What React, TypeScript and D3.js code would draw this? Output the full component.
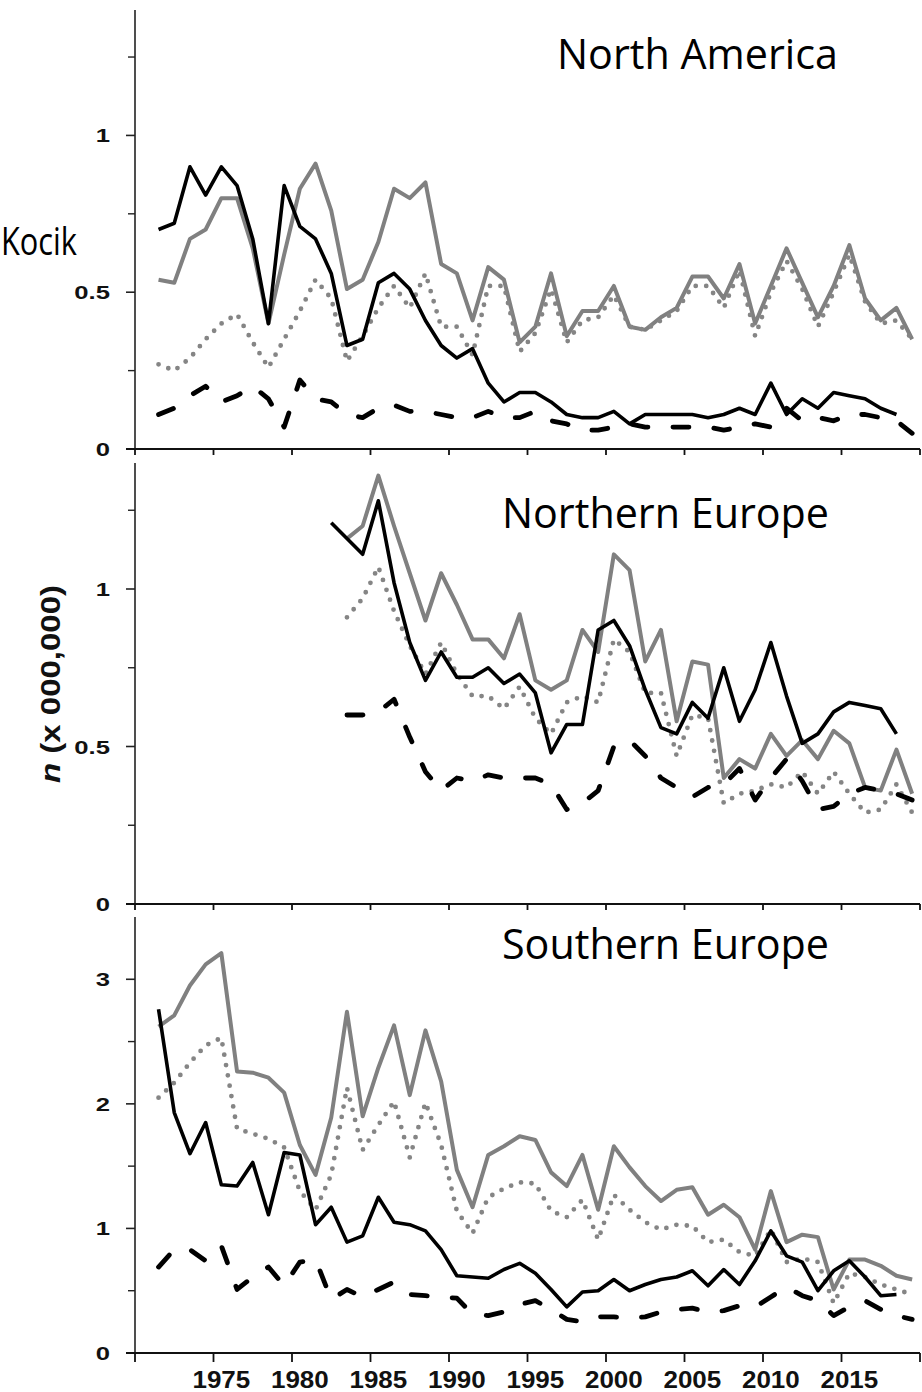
import React from 'react';
import * as d3 from 'd3';

// ---------- DATA ----------
const categories = d3.range(1970, 2020); // one category per year
const yearTickLabels = [1975, 1980, 1985, 1990, 1995, 2000, 2005, 2010, 2015];
const panelTitles = ['North America', 'Northern Europe', 'Southern Europe'];
const panelYMax = [1.4, 1.4, 3.5];
const panelMajorTicks = [[0, 0.5, 1], [0, 0.5, 1], [0, 1, 2, 3]];
const panelMinorTicks = [[0.25, 0.75, 1.25], [0.25, 0.75, 1.25], [0.5, 1.5, 2.5]];
const yAxisTitle = 'n (x 000,000)';
const sideNote = 'Kocik';

// North America (1971 start)
const naBlack = [
  0.70, 0.72, 0.90, 0.81, 0.90, 0.84, 0.67, 0.40, 0.84, 0.71,
  0.67, 0.56, 0.33, 0.35, 0.53, 0.56, 0.51, 0.41, 0.33, 0.29,
  0.32, 0.21, 0.15, 0.18, 0.18, 0.15, 0.11, 0.10, 0.10, 0.12,
  0.08, 0.11, 0.11, 0.11, 0.11, 0.10, 0.11, 0.13, 0.11, 0.21,
  0.11, 0.16, 0.13, 0.18, 0.17, 0.16, 0.13, 0.11,
];
const naGray = [
  0.54, 0.53, 0.67, 0.70, 0.80, 0.80, 0.64, 0.40, 0.62, 0.83,
  0.91, 0.76, 0.51, 0.54, 0.66, 0.83, 0.80, 0.85, 0.59, 0.56,
  0.41, 0.58, 0.54, 0.34, 0.39, 0.56, 0.36, 0.44, 0.44, 0.52,
  0.39, 0.38, 0.42, 0.45, 0.55, 0.55, 0.48, 0.59, 0.40, 0.52,
  0.64, 0.53, 0.42, 0.52, 0.65, 0.48, 0.41, 0.45, 0.35,
];
const naDotted = [
  0.27, 0.25, 0.29, 0.35, 0.40, 0.43, 0.34, 0.26, 0.35, 0.44,
  0.54, 0.48, 0.28, 0.36, 0.45, 0.52, 0.45, 0.56, 0.39, 0.39,
  0.30, 0.52, 0.52, 0.31, 0.37, 0.51, 0.34, 0.41, 0.42, 0.49,
  0.39, 0.38, 0.41, 0.44, 0.52, 0.52, 0.45, 0.57, 0.36, 0.50,
  0.60, 0.51, 0.39, 0.50, 0.62, 0.47, 0.40, 0.41, 0.35,
];
const naDashed = [
  0.11, 0.13, 0.17, 0.20, 0.15, 0.17, 0.20, 0.16, 0.07, 0.22,
  0.16, 0.15, 0.11, 0.10, 0.13, 0.14, 0.12, 0.12, 0.11, 0.10,
  0.10, 0.12, 0.10, 0.10, 0.12, 0.09, 0.08, 0.06, 0.06, 0.07,
  0.08, 0.07, 0.07, 0.07, 0.07, 0.07, 0.06, 0.07, 0.08, 0.07,
  0.13, 0.09, 0.10, 0.09, 0.11, 0.11, 0.10, 0.09, 0.05,
];

// Northern Europe (black from 1982, others from 1983)
const neBlack = [
  1.21, 1.16, 1.11, 1.28, 1.02, 0.83, 0.71, 0.80, 0.72,
  0.72, 0.75, 0.70, 0.73, 0.67, 0.48, 0.57, 0.57, 0.87, 0.90,
  0.82, 0.68, 0.56, 0.54, 0.64, 0.59, 0.75, 0.58, 0.68, 0.83,
  0.66, 0.51, 0.54, 0.61, 0.64, 0.63, 0.62, 0.54,
];
const neGray = [
  1.16, 1.20, 1.36, 1.20, 1.05, 0.90, 1.05, 0.95,
  0.84, 0.84, 0.78, 0.92, 0.71, 0.68, 0.71, 0.87, 0.80, 1.11,
  1.06, 0.77, 0.87, 0.58, 0.77, 0.76, 0.40, 0.46, 0.43, 0.54,
  0.47, 0.52, 0.46, 0.55, 0.51, 0.37, 0.36, 0.49, 0.35,
];
const neDotted = [
  0.91, 0.97, 1.07, 0.93, 0.82, 0.73, 0.83, 0.73,
  0.66, 0.66, 0.62, 0.69, 0.59, 0.54, 0.64, 0.66, 0.64, 0.84,
  0.80, 0.67, 0.67, 0.47, 0.60, 0.59, 0.32, 0.35, 0.36, 0.38,
  0.37, 0.42, 0.35, 0.42, 0.35, 0.29, 0.30, 0.38, 0.29,
];
const neDashed = [
  0.60, 0.60, 0.61, 0.65, 0.53, 0.42, 0.36, 0.40,
  0.39, 0.41, 0.40, 0.40, 0.40, 0.38, 0.30, 0.32, 0.36, 0.50,
  0.52, 0.47, 0.40, 0.37, 0.34, 0.37, 0.38, 0.43, 0.33, 0.40,
  0.46, 0.39, 0.30, 0.31, 0.35, 0.37, 0.36, 0.35, 0.33,
];

// Southern Europe (1971 start)
const seBlack = [
  2.76, 1.93, 1.60, 1.85, 1.35, 1.34, 1.53, 1.11, 1.61, 1.59,
  1.03, 1.17, 0.89, 0.94, 1.25, 1.05, 1.03, 0.98, 0.83, 0.62,
  0.61, 0.60, 0.67, 0.72, 0.64, 0.51, 0.37, 0.49, 0.50, 0.59,
  0.50, 0.55, 0.59, 0.61, 0.66, 0.54, 0.67, 0.55, 0.74, 0.98,
  0.78, 0.73, 0.50, 0.66, 0.74, 0.61, 0.46, 0.47,
];
const seGray = [
  2.62, 2.71, 2.95, 3.12, 3.21, 2.26, 2.25, 2.21, 2.09, 1.67,
  1.43, 1.89, 2.74, 1.90, 2.29, 2.63, 2.07, 2.59, 2.18, 1.47,
  1.17, 1.59, 1.66, 1.74, 1.71, 1.45, 1.34, 1.59, 1.15, 1.66,
  1.49, 1.34, 1.22, 1.31, 1.33, 1.11, 1.19, 1.09, 0.83, 1.30,
  0.89, 0.95, 0.93, 0.51, 0.75, 0.75, 0.70, 0.62, 0.59,
];
const seDotted = [
  2.05, 2.17, 2.33, 2.47, 2.53, 1.80, 1.76, 1.72, 1.65, 1.30,
  1.15, 1.43, 2.13, 1.63, 1.83, 2.02, 1.57, 2.01, 1.67, 1.14,
  0.96, 1.25, 1.32, 1.37, 1.36, 1.14, 1.09, 1.23, 0.91, 1.27,
  1.15, 1.05, 0.99, 1.03, 1.02, 0.89, 0.91, 0.81, 0.78, 0.99,
  0.73, 0.76, 0.73, 0.40, 0.64, 0.61, 0.55, 0.51, 0.47,
];
const seDashed = [
  0.69, 0.83, 0.83, 0.74, 0.86, 0.51, 0.61, 0.69, 0.54, 0.73,
  0.75, 0.43, 0.51, 0.45, 0.51, 0.57, 0.47, 0.46, 0.45, 0.44,
  0.31, 0.30, 0.33, 0.39, 0.42, 0.35, 0.27, 0.25, 0.29, 0.29,
  0.28, 0.29, 0.33, 0.35, 0.36, 0.33, 0.34, 0.38, 0.37, 0.45,
  0.53, 0.46, 0.42, 0.30, 0.37, 0.42, 0.35, 0.30, 0.27,
];

const panelSeries = [
  [
    { kind: 'gray', start: 1971, values: naGray },
    { kind: 'dotted', start: 1971, values: naDotted },
    { kind: 'dashed', start: 1971, values: naDashed },
    { kind: 'black', start: 1971, values: naBlack },
  ],
  [
    { kind: 'gray', start: 1983, values: neGray },
    { kind: 'dotted', start: 1983, values: neDotted },
    { kind: 'dashed', start: 1983, values: neDashed },
    { kind: 'black', start: 1982, values: neBlack },
  ],
  [
    { kind: 'gray', start: 1971, values: seGray },
    { kind: 'dotted', start: 1971, values: seDotted },
    { kind: 'dashed', start: 1971, values: seDashed },
    { kind: 'black', start: 1971, values: seBlack },
  ],
];

// ---------- LAYOUT / STYLE ----------
const W = 922;
const H = 1392;
const AX_LEFT = 135;
const AX_RIGHT = 920;
const panelBox = [
  { top: 10, bottom: 449, xTick: 6, title: { x: 557, y: 69, len: 281 } },
  { top: 463, bottom: 904, xTick: 6, title: { x: 502, y: 528, len: 327 } },
  { top: 917, bottom: 1353, xTick: 9, title: { x: 502, y: 959, len: 327 } },
];

const styles: Record<string, any> = {
  gray: { stroke: '#808080', strokeWidth: 4, dash: null, cap: 'butt' },
  dotted: { stroke: '#858585', strokeWidth: 4.8, dash: '0 10.5', cap: 'round' },
  dashed: { stroke: '#000', strokeWidth: 4.8, dash: '16 25', cap: 'round' },
  black: { stroke: '#000', strokeWidth: 3.6, dash: null, cap: 'butt' },
};

const x = d3.scaleBand<number>().domain(categories).range([AX_LEFT, AX_RIGHT]).padding(0);
const bw = x.bandwidth();
const cx = (yr: number) => (x(yr) as number) + bw / 2;

const boundaryYears = categories.filter((c) => (c - categories[0]) % 5 === 0);

function Panel({ idx }: { idx: number }) {
  const box = panelBox[idx];
  const y = d3.scaleLinear().domain([0, panelYMax[idx]]).range([box.bottom, box.top]);
  const line = (start: number) =>
    d3
      .line<number>()
      .x((_, i) => cx(start + i))
      .y((d) => y(d))
      .curve(d3.curveLinear);
  const xTickPos = [...boundaryYears.map((b) => x(b) as number), AX_RIGHT];
  return (
    <g>
      {panelSeries[idx].map((s, i) => {
        const st = styles[s.kind];
        return (
          <path
            key={i}
            d={line(s.start)(s.values) || ''}
            fill="none"
            stroke={st.stroke}
            strokeWidth={st.strokeWidth}
            strokeDasharray={st.dash || undefined}
            strokeLinecap={st.cap}
            strokeLinejoin="round"
          />
        );
      })}
      <line x1={AX_LEFT} x2={AX_LEFT} y1={box.top} y2={box.bottom} stroke="#222" strokeWidth={1.6} />
      {panelMinorTicks[idx].map((t) => (
        <line key={'mn' + t} x1={AX_LEFT - 7} x2={AX_LEFT} y1={y(t)} y2={y(t)} stroke="#222" strokeWidth={1.4} />
      ))}
      {panelMajorTicks[idx].map((t) => (
        <g key={'mj' + t}>
          <line x1={AX_LEFT - 9} x2={AX_LEFT} y1={y(t)} y2={y(t)} stroke="#222" strokeWidth={1.6} />
          <text
            transform={`translate(110,${y(t) + 7}) scale(1.35,1)`}
            textAnchor="end"
            fontFamily="'Liberation Sans', Arial, sans-serif"
            fontWeight="bold"
            fontSize={19}
            fill="#111"
          >
            {d3.format('~g')(t)}
          </text>
        </g>
      ))}
      <line x1={AX_LEFT - 9} x2={AX_RIGHT} y1={box.bottom} y2={box.bottom} stroke="#111" strokeWidth={2.2} />
      {xTickPos.map((p, i) => (
        <line key={'xt' + i} x1={p} x2={p} y1={box.bottom} y2={box.bottom + box.xTick} stroke="#111" strokeWidth={1.8} />
      ))}
      <text
        x={box.title.x}
        y={box.title.y}
        textLength={box.title.len}
        lengthAdjust="spacingAndGlyphs"
        fontFamily="'Open Sans', 'Noto Sans', sans-serif"
        fontSize={42}
        fill="#000"
      >
        {panelTitles[idx]}
      </text>
    </g>
  );
}

export default function App() {
  const bottom = panelBox[2].bottom;
  return (
    <svg
      width={W}
      height={H}
      viewBox={`0 0 ${W} ${H}`}
      style={{ position: 'absolute', left: 0, top: 0, background: '#fff' }}
    >
      <rect x={0} y={0} width={W} height={H} fill="#fff" />
      {panelBox.map((_, i) => (
        <Panel key={i} idx={i} />
      ))}
      {yearTickLabels.map((yr) => (
        <text
          key={yr}
          transform={`translate(${cx(yr)},${bottom + 35}) scale(1.13,1)`}
          textAnchor="middle"
          fontFamily="'Liberation Sans', Arial, sans-serif"
          fontWeight="bold"
          fontSize={23}
          fill="#111"
        >
          {yr}
        </text>
      ))}
      <text
        transform="translate(60,684) rotate(-90)"
        textAnchor="middle"
        textLength={198}
        lengthAdjust="spacingAndGlyphs"
        fontFamily="'Liberation Sans', Arial, sans-serif"
        fontWeight="bold"
        fontSize={28}
        fill="#111"
      >
        <tspan fontStyle="italic">{yAxisTitle.slice(0, 1)}</tspan>
        {yAxisTitle.slice(1)}
      </text>
      <text
        x={1}
        y={255}
        textLength={76}
        lengthAdjust="spacingAndGlyphs"
        fontFamily="'Open Sans', 'Noto Sans', sans-serif"
        fontSize={38}
        fill="#000"
      >
        {sideNote}
      </text>
    </svg>
  );
}
